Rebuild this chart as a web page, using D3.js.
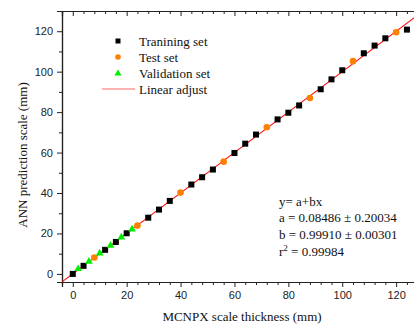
<!DOCTYPE html>
<html>
<head>
<meta charset="utf-8">
<script src="https://cdn.jsdelivr.net/npm/d3@7"></script>
<style>
body { margin: 0; background: #fff; }
svg { display: block; }
.tick text { font-family: Arial, 'Liberation Sans', sans-serif; font-size: 11px; fill: #222; }
.serif { font-family: 'Times New Roman', 'Liberation Serif', serif; font-size: 13px; fill: #111; }
</style>
</head>
<body>
<div id="chart"></div>
<script>
// training set (black squares)
var train_x = [0, 4, 12, 16, 20, 28, 32, 36, 44, 48, 52, 60, 64, 68, 76, 80, 84, 92, 96, 100, 108, 112, 116, 124];
var train_y = [0, 4, 11.9, 15.8, 20.1, 27.8, 31.8, 36.1, 44.2, 47.8, 51.6, 59.8, 64.4, 68.9, 76.4, 79.7, 83.3, 91.3, 96.2, 100.7, 109.1, 112.9, 116.5, 120.8];

// test set (orange circles)
var test_x = [8, 24, 40, 56, 72, 88, 104, 120];
var test_y = [8.1, 23.9, 40.2, 55.5, 72.5, 87.0, 105.2, 119.5];

// validation set (green triangles)
var valid_x = [2, 6, 10, 14, 18, 22];
var valid_y = [2.5, 6.1, 10.2, 14.0, 18.1, 22.1];

var fit_a = 0.08486;
var fit_b = 0.99910;

var x_ticks = [0, 20, 40, 60, 80, 100, 120];
var y_ticks = [0, 20, 40, 60, 80, 100, 120];

var legend_labels = ['Tranining set', 'Test set', 'Validation set', 'Linear adjust'];
var fit_lines = ['y= a+bx', 'a = 0.08486 \u00b1 0.20034', 'b = 0.99910 \u00b1 0.00301'];

var chart_width = 414;
var chart_height = 327;
var m_left = 62, m_right = 415, m_top = 11, m_bottom = 282;

var svg = d3.select('#chart')
	.append('svg')
	.attr('width', chart_width)
	.attr('height', chart_height);

var x_scale = d3.scaleLinear().domain([-4, 127]).range([m_left, m_right]);
var y_scale = d3.scaleLinear().domain([-4, 130]).range([m_bottom, m_top]);

var x_minor = d3.range(-4, 128, 4).filter(function(v){ return v % 20 !== 0; });
var y_minor = d3.range(-10, 131, 10).filter(function(v){ return v % 20 !== 0 && v >= -4; });

function style_axis(g) {
	g.select('.domain').attr('stroke', '#222').attr('stroke-width', 1.2);
	g.selectAll('.tick line').attr('stroke', '#222').attr('stroke-width', 1);
}

// minor ticks first
svg.append('g')
	.attr('transform', 'translate(0,' + m_bottom + ')')
	.call(d3.axisBottom(x_scale).tickValues(x_minor).tickSize(3).tickFormat(''))
	.call(style_axis);
svg.append('g')
	.attr('transform', 'translate(0,' + m_top + ')')
	.call(d3.axisBottom(x_scale).tickValues(x_minor).tickSize(3).tickFormat(''))
	.call(style_axis);
svg.append('g')
	.attr('transform', 'translate(' + m_left + ',0)')
	.call(d3.axisLeft(y_scale).tickValues(y_minor).tickSize(3).tickFormat(''))
	.call(style_axis);

// major ticks
svg.append('g')
	.attr('transform', 'translate(0,' + m_bottom + ')')
	.call(d3.axisBottom(x_scale).tickValues(x_ticks).tickSize(5).tickPadding(4))
	.call(style_axis);
svg.append('g')
	.attr('transform', 'translate(0,' + m_top + ')')
	.call(d3.axisBottom(x_scale).tickValues(x_ticks).tickSize(5).tickFormat(''))
	.call(style_axis);
svg.append('g')
	.attr('transform', 'translate(' + m_left + ',0)')
	.call(d3.axisLeft(y_scale).tickValues(y_ticks).tickSize(5).tickPadding(4))
	.call(style_axis);

// clip for the fit line
svg.append('clipPath').attr('id', 'clip')
	.append('rect')
	.attr('x', m_left).attr('y', m_top)
	.attr('width', m_right - m_left).attr('height', m_bottom - m_top);

var fit_x = [-4, 127];
svg.append('path')
	.datum(fit_x)
	.attr('clip-path', 'url(#clip)')
	.attr('d', d3.line()
		.x(function(d){ return x_scale(d); })
		.y(function(d){ return y_scale(fit_a + fit_b * d); }))
	.attr('stroke', '#ff0000')
	.attr('stroke-width', 1.1)
	.attr('fill', 'none');

// training squares
svg.selectAll('.train')
	.data(d3.zip(train_x, train_y))
	.enter()
	.append('rect')
	.attr('class', 'train')
	.attr('x', function(d){ return x_scale(d[0]) - 3; })
	.attr('y', function(d){ return y_scale(d[1]) - 3; })
	.attr('width', 6)
	.attr('height', 6)
	.attr('fill', '#000');

// test circles
svg.selectAll('.test')
	.data(d3.zip(test_x, test_y))
	.enter()
	.append('circle')
	.attr('class', 'test')
	.attr('cx', function(d){ return x_scale(d[0]); })
	.attr('cy', function(d){ return y_scale(d[1]); })
	.attr('r', 3.3)
	.attr('fill', '#ff8000');

// validation triangles
var tri = d3.symbol().type(d3.symbolTriangle).size(26);
svg.selectAll('.valid')
	.data(d3.zip(valid_x, valid_y))
	.enter()
	.append('path')
	.attr('class', 'valid')
	.attr('d', tri)
	.attr('transform', function(d){
		return 'translate(' + x_scale(d[0]) + ',' + y_scale(d[1]) + ')';
	})
	.attr('fill', '#00ee00');

// legend
var lx = 118, ly = 41, lstep = 16;
var leg = svg.append('g');
leg.append('rect').attr('x', lx - 2.5).attr('y', ly - 2.5).attr('width', 5).attr('height', 5).attr('fill', '#000');
leg.append('circle').attr('cx', lx).attr('cy', ly + lstep).attr('r', 2.8).attr('fill', '#ff8000');
leg.append('path').attr('d', d3.symbol().type(d3.symbolTriangle).size(22))
	.attr('transform', 'translate(' + lx + ',' + (ly + lstep * 2 + 0.5) + ')').attr('fill', '#00ee00');
leg.append('line').attr('x1', 102).attr('x2', 135)
	.attr('y1', ly + lstep * 3).attr('y2', ly + lstep * 3)
	.attr('stroke', '#ff6666').attr('stroke-width', 1.2);
leg.selectAll('text')
	.data(legend_labels)
	.enter()
	.append('text')
	.attr('class', 'serif')
	.attr('x', 139)
	.attr('y', function(d, i){ return ly + i * lstep + 4.5; })
	.text(function(d){ return d; });

// fit annotation
var ax = 279, ay = 206;
svg.selectAll('.fit')
	.data(fit_lines)
	.enter()
	.append('text')
	.attr('class', 'serif fit')
	.attr('x', ax)
	.attr('y', function(d, i){ return ay + i * 16.3; })
	.text(function(d){ return d; });
var r2 = svg.append('text').attr('class', 'serif').attr('x', ax).attr('y', ay + 3 * 16.3 + 1);
r2.append('tspan').text('r');
r2.append('tspan').attr('dy', -5).style('font-size', '9px').text('2');
r2.append('tspan').attr('dy', 5).text(' = 0.99984');

// axis titles
svg.append('text')
	.attr('class', 'serif')
	.attr('x', 242)
	.attr('y', 321)
	.attr('text-anchor', 'middle')
	.text('MCNPX scale thickness (mm)');

svg.append('text')
	.attr('class', 'serif')
	.attr('transform', 'translate(27,155) rotate(-90)')
	.attr('text-anchor', 'middle')
	.text('ANN prediction scale (mm)');
</script>
</body>
</html>
